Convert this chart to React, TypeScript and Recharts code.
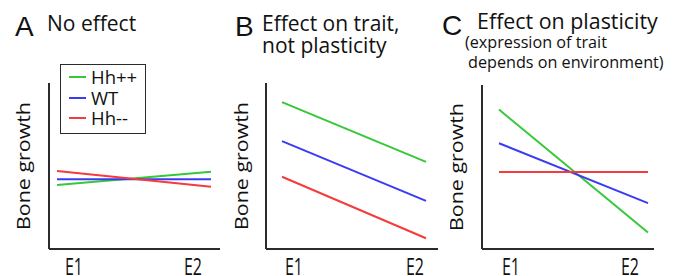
import { Legend, Line, LineChart, XAxis, YAxis } from "recharts"

const envLabels = ["E1", "E2"]
const seriesNames = ["Hh++", "WT", "Hh--"]
const seriesColors = ["#37c837", "#3b3bf5", "#f53b3b"]

// A: no effect
const noEffectHhPlus = [38.5, 46.5]
const noEffectWT = [42, 42]
const noEffectHhMinus = [47, 37.5]

// B: effect on trait, not plasticity
const traitHhPlus = [88.5, 52.5]
const traitWT = [65, 29]
const traitHhMinus = [43.5, 6.5]

// C: effect on plasticity
const plasticHhPlus = [85, 10]
const plasticWT = [64.5, 28]
const plasticHhMinus = [47, 47]

const FONT = "'Open Sans', 'DejaVu Sans', sans-serif"
const LETTER_FONT = "'Liberation Sans', Arial, sans-serif"
const AXIS = "#2b2b2b"
const INK = "#111"

const buildRows = (plus: number[], wt: number[], minus: number[]) =>
  envLabels.map((label, i) => ({
    x: i,
    label,
    hhPlus: plus[i],
    wt: wt[i],
    hhMinus: minus[i],
  }))

const LegendBox = ({ payload }: { payload?: Array<{ value: string; color: string }> }) => {
  const items = [...(payload ?? [])].sort(
    (a, b) => seriesNames.indexOf(a.value) - seriesNames.indexOf(b.value)
  )
  return (
    <div
      style={{
        border: `1.5px solid ${AXIS}`,
        padding: "2px 0 4px 8px",
        fontFamily: FONT,
        fontSize: 18.5,
        lineHeight: "20.5px",
        color: INK,
        background: "#fff",
      }}
    >
      {items.map((p) => (
        <div key={p.value} style={{ display: "flex", alignItems: "center" }}>
          <span
            style={{
              display: "inline-block",
              width: 17,
              height: 2,
              background: p.color,
              marginRight: 5,
            }}
          />
          {p.value}
        </div>
      ))}
    </div>
  )
}

// the E labels in the figure are drawn tall and narrow
const EnvTick = ({ x, y, payload, shift }: any) => {
  const dx = payload.value === 0 ? shift[0] : shift[1]
  return (
    <text
      transform={`translate(${x + dx},${y + 1}) scale(1,1.5)`}
      dy="0.714em"
      textAnchor="middle"
      fontFamily={FONT}
      fontSize={16}
      fill={INK}
    >
      {envLabels[payload.value]}
    </text>
  )
}

const BoneLabel = ({ viewBox, baseline }: any) => {
  const cy = viewBox.y + viewBox.height / 2
  const bx = viewBox.x + baseline
  return (
    <text
      transform={`translate(${bx},${cy}) rotate(-90)`}
      textAnchor="middle"
      fontFamily={FONT}
      fontSize={18.5}
      fill={INK}
      textLength={128}
      lengthAdjust="spacingAndGlyphs"
    >
      Bone growth
    </text>
  )
}

type PanelProps = {
  left: number
  width: number
  top: number
  right: number
  axisWidth: number
  labelBaseline: number
  pad: [number, number]
  shift: [number, number]
  rows: ReturnType<typeof buildRows>
  legend?: boolean
}

const Panel = ({ left, width, top, right, axisWidth, labelBaseline, pad, shift, rows, legend }: PanelProps) => (
  <div style={{ position: "absolute", left, top: 0 }}>
    <LineChart
      width={width}
      height={276}
      data={rows}
      margin={{ top, right, bottom: 0, left: 0 }}
    >
      <XAxis
        dataKey="x"
        type="number"
        domain={[0, 1]}
        ticks={[0, 1]}
        padding={{ left: pad[0], right: pad[1] }}
        height={27}
        tickLine={false}
        axisLine={{ stroke: AXIS, strokeWidth: 2 }}
        tick={<EnvTick shift={shift} />}
      />
      <YAxis
        type="number"
        domain={[0, 100]}
        width={axisWidth}
        tick={false}
        tickLine={false}
        axisLine={{ stroke: AXIS, strokeWidth: 2 }}
        label={<BoneLabel baseline={labelBaseline} />}
      />
      {legend && (
        <Legend
          layout="vertical"
          align="center"
          verticalAlign="middle"
          content={<LegendBox />}
          wrapperStyle={{ left: 60, top: 64, width: 86 }}
        />
      )}
      <Line dataKey="hhPlus" name={seriesNames[0]} stroke={seriesColors[0]} strokeWidth={2} dot={false} isAnimationActive={false} />
      <Line dataKey="wt" name={seriesNames[1]} stroke={seriesColors[1]} strokeWidth={2} dot={false} isAnimationActive={false} />
      <Line dataKey="hhMinus" name={seriesNames[2]} stroke={seriesColors[2]} strokeWidth={2} dot={false} isAnimationActive={false} />
    </LineChart>
  </div>
)

const Titles = () => (
  <svg
    width={680}
    height={80}
    style={{ position: "absolute", left: 0, top: 0, pointerEvents: "none" }}
    fontFamily={FONT}
    fill={INK}
  >
    <text x={15} y={36} fontSize={28} fontFamily={LETTER_FONT}>A</text>
    <text x={47} y={31} fontSize={21}>No effect</text>
    <text x={235} y={36} fontSize={28} fontFamily={LETTER_FONT}>B</text>
    <text x={262} y={31} fontSize={21}>Effect on trait,</text>
    <text x={262} y={53} fontSize={21}>not plasticity</text>
    <text x={442} y={35} fontSize={28} fontFamily={LETTER_FONT}>C</text>
    <text x={477} y={29} fontSize={21.4}>Effect on plasticity</text>
    <text x={465} y={48} fontSize={16.2}>(expression of trait</text>
    <text x={468} y={68} fontSize={16.2}>depends on environment)</text>
  </svg>
)

export default function App() {
  return (
    <div
      style={{
        position: "absolute",
        left: 0,
        top: 0,
        width: 680,
        height: 276,
        background: "#fff",
        overflow: "hidden",
      }}
    >
      <Panel
        left={0}
        width={230}
        top={83}
        right={10}
        axisWidth={49}
        labelBaseline={29.5}
        pad={[8, 9]}
        shift={[17, -18]}
        rows={buildRows(noEffectHhPlus, noEffectWT, noEffectHhMinus)}
        legend
      />
      <Panel
        left={230}
        width={220}
        top={83}
        right={12}
        axisWidth={36}
        labelBaseline={18}
        pad={[16, 12]}
        shift={[12, -11]}
        rows={buildRows(traitHhPlus, traitWT, traitHhMinus)}
      />
      <Panel
        left={450}
        width={230}
        top={85}
        right={26}
        axisWidth={32}
        labelBaseline={12.5}
        pad={[17, 6]}
        shift={[12, -18]}
        rows={buildRows(plasticHhPlus, plasticWT, plasticHhMinus)}
      />
      <Titles />
    </div>
  )
}
